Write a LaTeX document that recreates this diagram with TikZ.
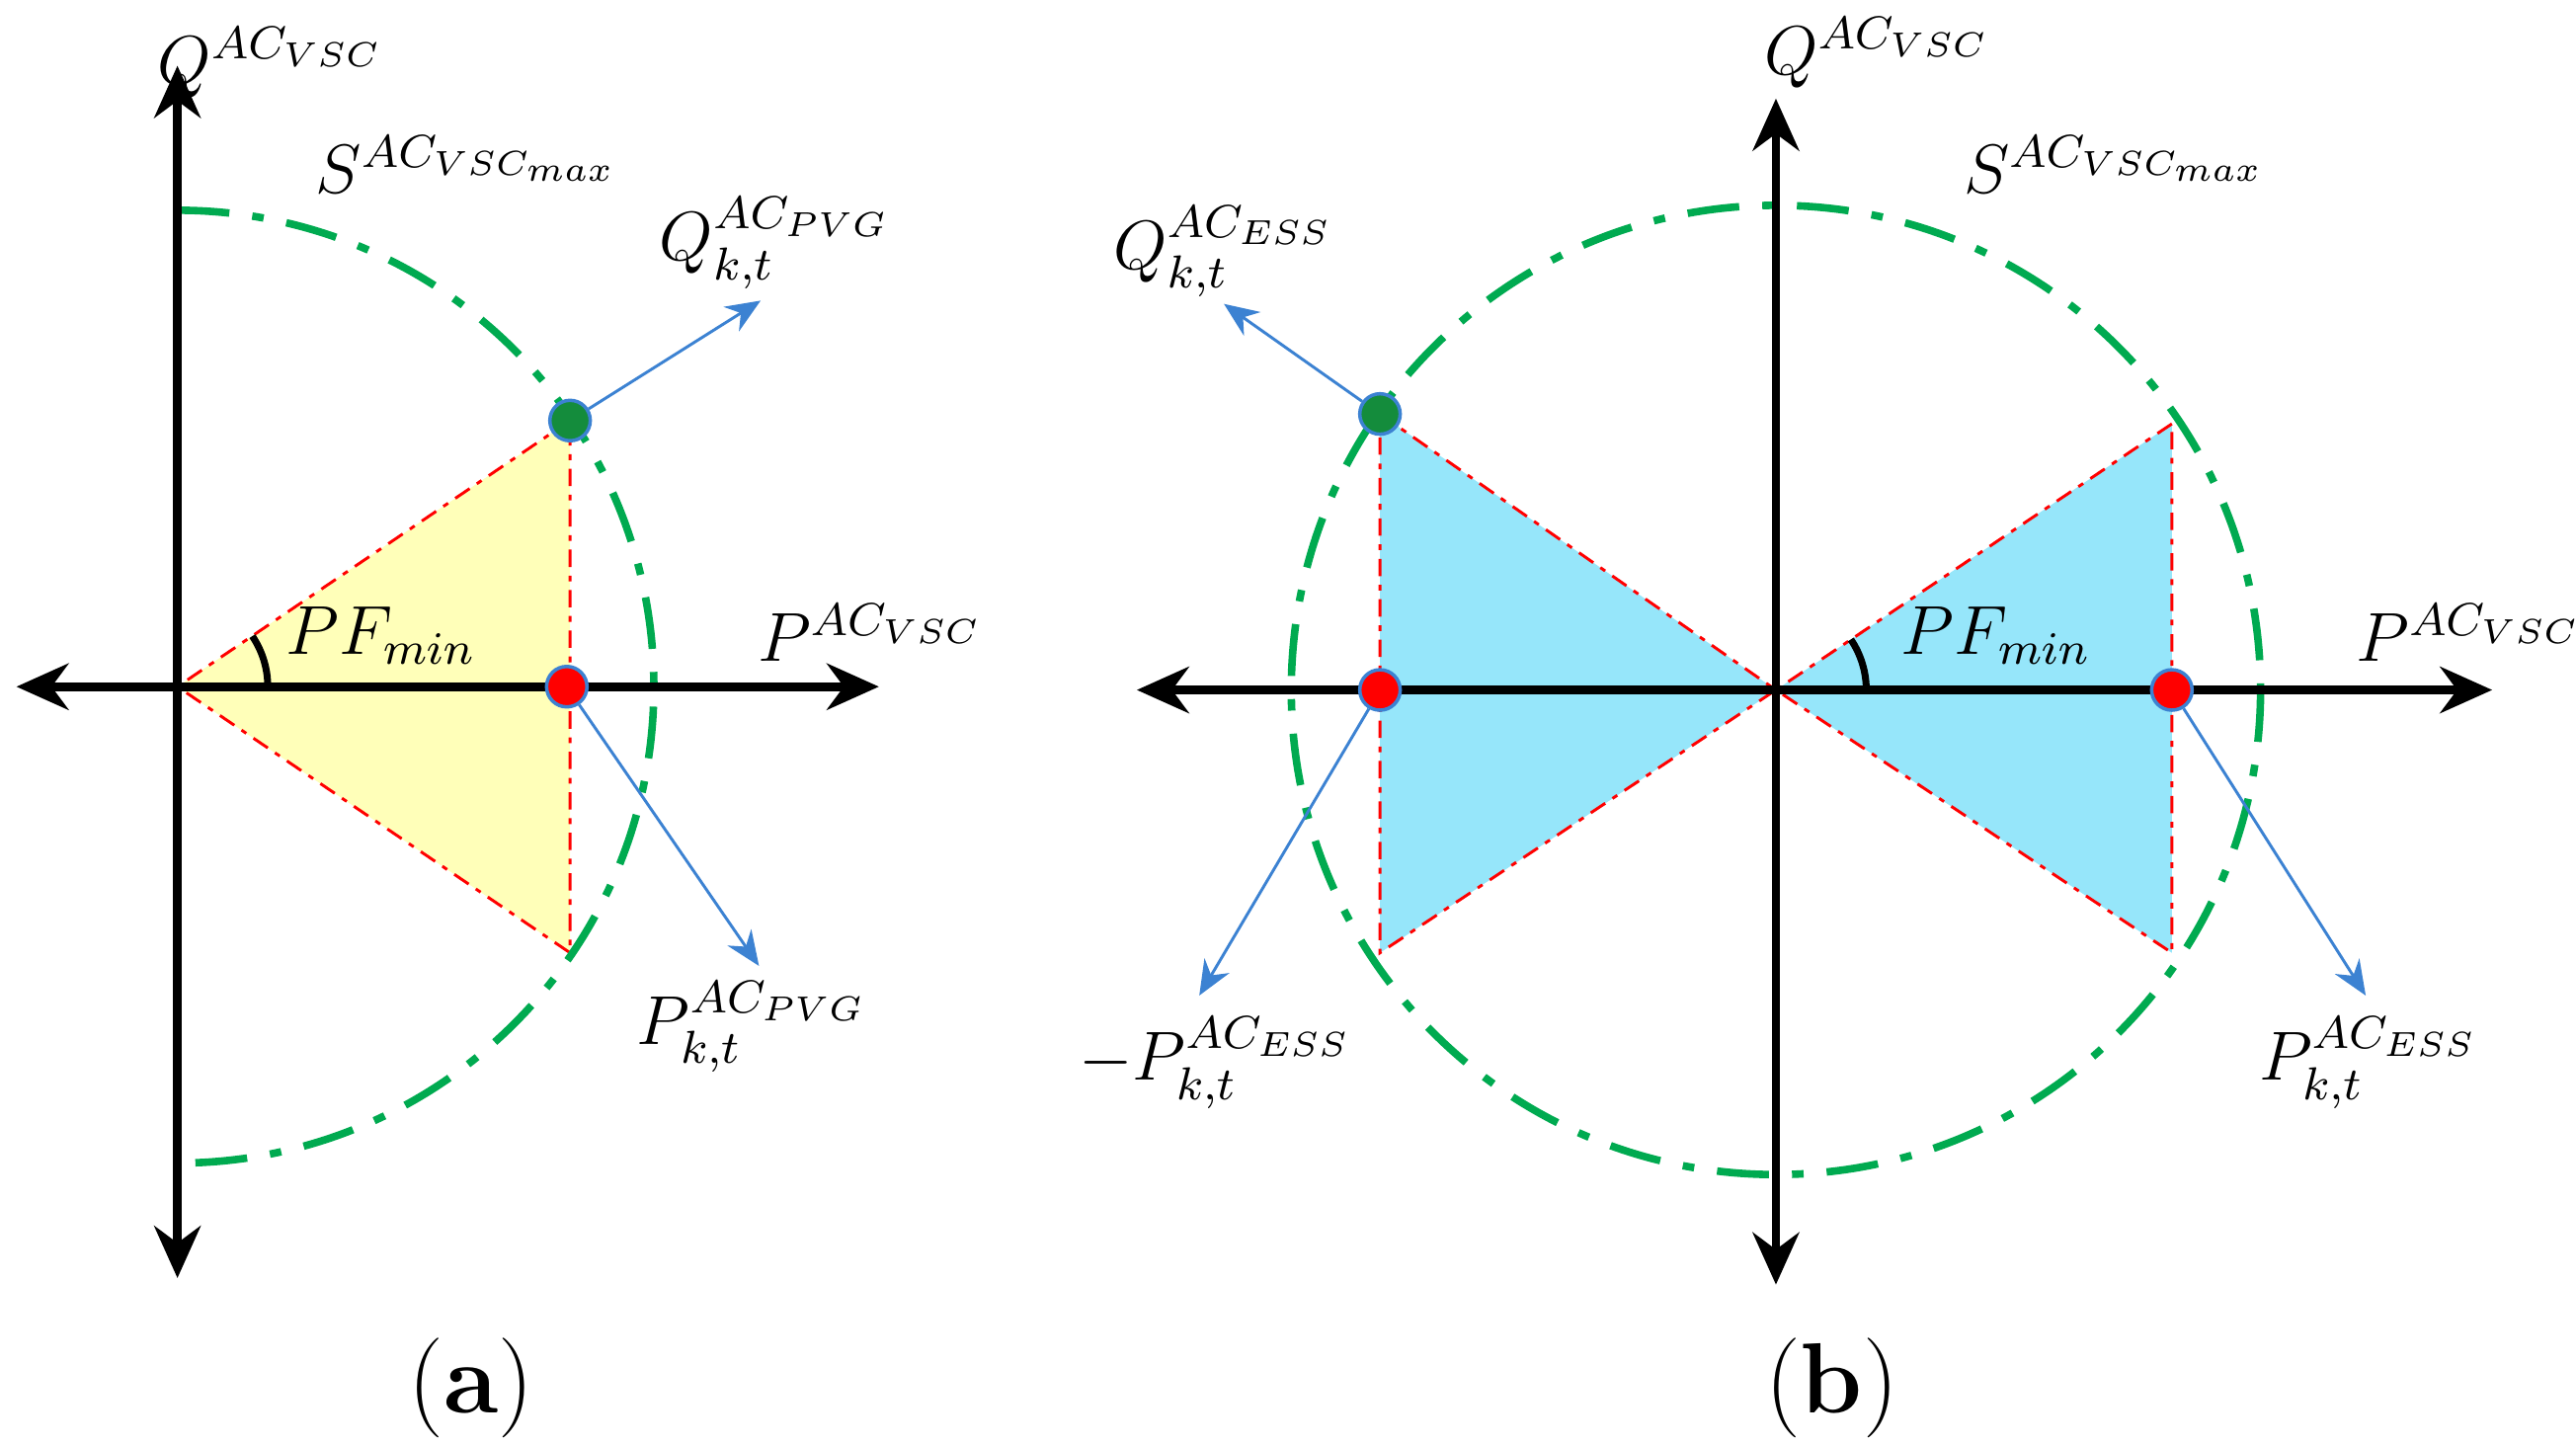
\documentclass[tikz,border=0pt]{standalone}
\usepackage{amsmath}
\usepackage{amssymb}
\usetikzlibrary{arrows.meta}
\definecolor{dgreen}{RGB}{0,170,80}
\definecolor{pgreen}{RGB}{20,140,60}
\definecolor{lblue}{RGB}{150,230,250}
\definecolor{lyellow}{RGB}{255,255,185}
\definecolor{ablue}{RGB}{60,130,210}
\tikzset{
  axis/.style={line width=1.5pt,{Stealth[length=9pt,width=8pt]}-{Stealth[length=9pt,width=8pt]}},
  limit/.style={dgreen,line width=1.3pt,dash pattern=on 9pt off 4pt on 2pt off 4pt},
  side/.style={red,line width=0.5pt,dash pattern=on 3pt off 1.5pt on 1pt off 1.5pt},
  pt/.style={draw=ablue,circle,inner sep=0pt,minimum size=7pt,line width=0.6pt},
  lead/.style={ablue,line width=0.5pt,-{Stealth[length=6pt,width=5pt]}},
  lbl/.style={font=\large}
}
\begin{document}
\begin{tikzpicture}[x=0.01cm,y=-0.01cm]
    \useasboundingbox (0,0) rectangle (1568,879);
    % (a)
    \coordinate (oa) at (108,418);
    \fill[lyellow] (oa) -- (347,256) -- (347,580) -- cycle;
    \draw[side] (347,256) -- (oa) -- (347,580) -- (347,256);
    \draw[side] (oa) -- (347,418);
    \draw[limit] (108,128) arc[start angle=-90,end angle=90,radius=290];
    \draw[axis] (10,418) -- (535,418);
    \draw[axis] (108,40) -- (108,778);
    \draw[line width=1.2pt] (163,418) arc[start angle=0,end angle=-34,radius=55];
    \node (ga) [pt,fill=pgreen] at (347,256) {};
    \node (ra) [pt,fill=red] at (345,418) {};
    \coordinate (qa) at (463,183);
    \coordinate (pa) at (462,588);
    \draw[lead] (ga) -- (qa);
    \draw[lead] (ra) -- (pa);
    \node[lbl] at (165,38) {$Q^{AC_{VSC}}$};
    \node[lbl] at (285,100) {$S^{AC_{VSC_{max}}}$};
    \node[lbl] at (530,385) {$P^{AC_{VSC}}$};
    \node[lbl] at (232,387) {$PF_{min}$};
    \node[lbl] at (472,148) {$Q_{k,t}^{AC_{PVG}}$};
    \node[lbl] at (458,625) {$P_{k,t}^{AC_{PVG}}$};
    \node[font=\LARGE] at (287,845) {(\textbf{a})};
    % (b)
    \coordinate (ob) at (1081,420);
    \fill[lblue] (ob) -- (1322,258) -- (1322,580) -- cycle;
    \fill[lblue] (ob) -- (840,252) -- (840,580) -- cycle;
    \draw[side] (1322,258) -- (ob) -- (1322,580) -- (1322,258);
    \draw[side] (840,252) -- (ob) -- (840,580) -- (840,252);
    \draw[side] (840,418) -- (1322,418);
    \draw[limit] (ob) circle[radius=295];
    \draw[axis] (692,420) -- (1517,420);
    \draw[axis] (1081,60) -- (1081,782);
    \draw[line width=1.2pt] (1136,420) arc[start angle=0,end angle=-34,radius=55];
    \node (gb) [pt,fill=pgreen] at (840,252) {};
    \node (rl) [pt,fill=red] at (840,420) {};
    \node (rr) [pt,fill=red] at (1322,420) {};
    \coordinate (qb) at (745,185);
    \coordinate (pl) at (730,606);
    \coordinate (pr) at (1440,606);
    \draw[lead] (gb) -- (qb);
    \draw[lead] (rl) -- (pl);
    \draw[lead] (rr) -- (pr);
    \node[lbl] at (1143,32) {$Q^{AC_{VSC}}$};
    \node[lbl] at (1288,100) {$S^{AC_{VSC_{max}}}$};
    \node[lbl] at (1503,385) {$P^{AC_{VSC}}$};
    \node[lbl] at (1215,387) {$PF_{min}$};
    \node[lbl] at (745,153) {$Q_{k,t}^{AC_{ESS}}$};
    \node[lbl] at (740,647) {$-P_{k,t}^{AC_{ESS}}$};
    \node[lbl] at (1442,647) {$P_{k,t}^{AC_{ESS}}$};
    \node[font=\LARGE] at (1115,845) {(\textbf{b})};
\end{tikzpicture}
\end{document}
